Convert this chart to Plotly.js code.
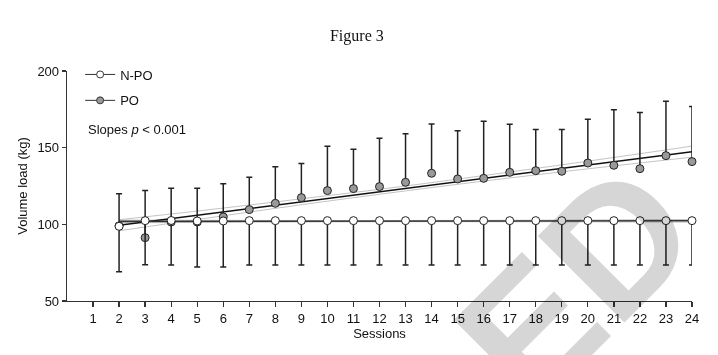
<!DOCTYPE html>
<html><head><meta charset="utf-8">
<script src="https://cdn.plot.ly/plotly-3.0.1.min.js"></script>
<style>
html,body{margin:0;padding:0;background:#fff;}
#wrap{position:relative;width:718px;height:355px;overflow:hidden;background:#fff;}
#chart{width:718px;height:355px;}
#wm{position:absolute;left:0;top:0;width:718px;height:355px;pointer-events:none;mix-blend-mode:multiply;}
</style></head><body>
<div id="wrap"><div id="chart"></div>
<svg id="wm" width="718" height="355"><text x="0" y="0" transform="translate(576,284) rotate(-45)" font-family="Liberation Sans, Arial, sans-serif" font-weight="bold" font-size="178" fill="#d6d6d6" text-anchor="middle" dominant-baseline="central">ED</text></svg>
</div>
<script>
// Sessions with data
const sessions = [2,3,4,5,6,7,8,9,10,11,12,13,14,15,16,17,18,19,20,21,22,23,24];
const tickVals = [1,2,3,4,5,6,7,8,9,10,11,12,13,14,15,16,17,18,19,20,21,22,23,24];
// PO group: mean and SD (upper bars)
const poMean = [99, 91.3, 101.5, 101.5, 104.8, 109.6, 113.7, 117.4, 122, 123.3, 124.6, 127.4, 133.3, 129.6, 130, 133.9, 135, 134.6, 140, 138.5, 136.3, 144.8, 140.9];
const poSD   = [21, 30.7, 22, 22, 21.7, 21.1, 23.9, 22.2, 28.9, 25.6, 31.5, 31.6, 32.2, 31.5, 37.2, 31.3, 26.8, 27.2, 28.5, 36.3, 36.6, 35.4, 36];
// N-PO group: mean and SD (lower bars)
const npoMean = [98.7, 102.4, 102.5, 102.2, 102.2, 102.4, 102.4, 102.4, 102.4, 102.4, 102.4, 102.4, 102.4, 102.4, 102.4, 102.4, 102.4, 102.4, 102.4, 102.4, 102.4, 102.4, 102.4];
const npoSD   = [29.6, 28.7, 29.0, 30.0, 30.0, 28.9, 28.9, 28.9, 28.9, 28.9, 28.9, 28.9, 28.9, 28.9, 28.9, 28.9, 28.9, 28.9, 28.9, 28.9, 28.9, 28.9, 28.9];
// Linear fits
const fitX = [2, 24];
const poFit = [99.4, 147.4];
const npoFit = [101.9, 102.3];
// 95% confidence bands
const bandX = [2, 6, 10, 13, 16, 20, 24];
const poUpper = [103.0, 110.6, 118.7, 125.0, 131.8, 141.2, 151.0];
const poLower = [95.8, 105.6, 115.1, 121.8, 128.2, 136.2, 143.8];
const npoUpper = [102.8, 102.6, 102.5, 102.5, 102.6, 102.8, 103.2];
const npoLower = [101.0, 101.3, 101.6, 101.7, 101.7, 101.6, 101.4];

const FONT = 'Liberation Sans, Arial, sans-serif';
const bandLine = {color:'#c4c4c4', width:1, shape:'spline'};

const traces = [
  {x: bandX, y: poUpper, mode:'lines', line: bandLine, showlegend:false, hoverinfo:'skip', cliponaxis:false},
  {x: bandX, y: poLower, mode:'lines', line: bandLine, showlegend:false, hoverinfo:'skip', cliponaxis:false},
  {x: bandX, y: npoUpper, mode:'lines', line: bandLine, showlegend:false, hoverinfo:'skip', cliponaxis:false},
  {x: bandX, y: npoLower, mode:'lines', line: bandLine, showlegend:false, hoverinfo:'skip', cliponaxis:false},
  {x: fitX, y: poFit, mode:'lines', line:{color:'#111', width:1.5}, showlegend:false, cliponaxis:false},
  {x: fitX, y: npoFit, mode:'lines', line:{color:'#333', width:1.6}, showlegend:false, cliponaxis:false},
  {x: sessions, y: poMean, mode:'markers', showlegend:false, cliponaxis:false,
   marker:{symbol:'circle', size:8, color:'#999999', line:{color:'#222', width:1}},
   error_y:{type:'data', symmetric:false, array: poSD, arrayminus: poSD.map(()=>0), color:'#222', thickness:1.5, width:3}},
  {x: sessions, y: npoMean, mode:'markers', showlegend:false, cliponaxis:false,
   marker:{symbol:'circle', size:8, color:'#ffffff', line:{color:'#222', width:1}},
   error_y:{type:'data', symmetric:false, array: npoSD.map(()=>0), arrayminus: npoSD, color:'#222', thickness:1.5, width:3}},
  // legend entries
  {x:[null], y:[null], name:'N-PO', mode:'lines+markers', legendgroup:'a',
   line:{color:'#333', width:1}, marker:{symbol:'circle', size:7, color:'#fff', line:{color:'#333', width:1}}},
  {x:[null], y:[null], name:'PO', mode:'lines+markers', legendgroup:'b',
   line:{color:'#333', width:1}, marker:{symbol:'circle', size:7, color:'#999999', line:{color:'#333', width:1}}}
];

const layout = {
  width:718, height:355,
  margin:{l:67, r:26, t:71, b:54},
  paper_bgcolor:'rgba(0,0,0,0)', plot_bgcolor:'rgba(0,0,0,0)',
  font:{family:FONT, size:13, color:'#111'},
  title:{text:'Figure 3', font:{family:'Liberation Serif, Times New Roman, serif', size:16, color:'#111'},
         x:0.497, xanchor:'center', y:0.899, yanchor:'middle', yref:'container'},
  xaxis:{range:[0,24], tickvals:tickVals, ticktext:tickVals.map(String), showgrid:false, zeroline:false,
         showline:true, linecolor:'#333', linewidth:1.3, ticks:'outside', ticklen:5, tickwidth:1.3, tickcolor:'#333',
         title:{text:'Sessions', font:{size:13}, standoff:4}, fixedrange:true},
  yaxis:{range:[50,200], tickvals:[50,100,150,200], showgrid:false, zeroline:false,
         showline:true, linecolor:'#333', linewidth:1.3, ticks:'outside', ticklen:4, tickwidth:1.3, tickcolor:'#333',
         title:{text:'Volume load (kg)', font:{size:13}, standoff:6}, fixedrange:true},
  legend:{x:0.021, y:1.05, xanchor:'left', yanchor:'top', bgcolor:'rgba(0,0,0,0)', font:{size:13}, tracegroupgap:6},
  annotations:[{xref:'paper', yref:'paper', x:0.031, y:0.745, xanchor:'left', yanchor:'middle', showarrow:false,
    text:'Slopes <i>p</i> &lt; 0.001', font:{size:13}}],
  showlegend:true
};
Plotly.newPlot('chart', traces, layout, {displayModeBar:false, staticPlot:true});
</script>
</body></html>
